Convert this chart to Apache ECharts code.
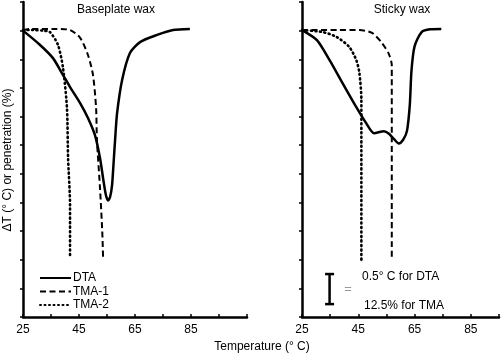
<!DOCTYPE html>
<html><head><meta charset="utf-8">
<script src="https://cdn.jsdelivr.net/npm/echarts@6/dist/echarts.min.js"></script>
<style>html,body{margin:0;padding:0;background:#fff}#c{width:502px;height:355px}</style>
</head><body><div id="c"></div>
<script>
// Baseplate wax (left panel): [temperature °C, scale units]
const baseDTA = [[25,10.0],[31.1,9.5],[35.7,9.04],[39.3,8.45],[41.8,8.03],[45.4,7.47],[48.2,6.95],[50.7,6.35],[52.5,5.55],[53.6,4.85],[54.6,4.26],[55.4,4.07],[56.1,4.19],[56.8,4.6],[57.3,5.3],[57.9,6.2],[58.6,7.12],[60.4,8.28],[63.2,9.22],[66.8,9.6],[72.9,9.85],[78.6,10.02],[84.6,10.06]];
const baseTMA1 = [[25,10.02],[27.5,10.06],[37.1,10.06],[41.8,10.02],[45.4,9.75],[48.2,9.15],[50.0,8.45],[51.1,7.3],[51.4,6.2],[52.5,4.5],[53.3,3.0],[53.6,2.06]];
const baseTMA2 = [[25,10.02],[28.6,10.02],[32.1,10.0],[34.6,9.95],[37.5,9.5],[39.3,8.69],[40.7,7.3],[41.1,5.55],[41.8,3.9],[41.8,2.06]];
// Sticky wax (right panel)
const stickyDTA = [[25,10.02],[30.3,9.67],[34.8,8.97],[39.4,8.17],[44.3,7.33],[47.8,6.77],[50.6,6.42],[54.1,6.49],[55.9,6.4],[57.8,6.2],[59.4,6.06],[61.0,6.2],[62.3,6.5],[63.3,7.4],[63.9,8.6],[65.0,9.45],[67.5,9.95],[70.5,10.05],[74.5,10.06]];
const stickyTMA1 = [[25,10.02],[38.3,10.02],[45.4,10.02],[49.9,9.92],[53.4,9.57],[55.8,9.2],[56.9,8.8],[56.9,1.99]];
const stickyTMA2 = [[25,10.02],[32.4,9.95],[37.3,9.78],[41.8,9.43],[44.3,8.97],[45.4,8.52],[46.1,7.58],[46.1,1.99]];
// scale bar (1 unit = 0.5 °C for DTA, 12.5 % for TMA)
const scaleBar = [[34.8,1.5],[34.8,0.45]];
const xTickLabels = [25,45,65,85];
const panelTitles = ['Baseplate wax','Sticky wax'];
const seriesNames = ['DTA','TMA-1','TMA-2'];

const font = 'Liberation Sans, Arial, sans-serif';
const chart = echarts.init(document.getElementById('c'));
const styles = {
  'DTA': {type:'solid', width:2.5},
  'TMA-1': {type:[6,3.5], width:2},
  'TMA-2': {type:[1,3.5], width:2.6, cap:'round'}
};
function mk(name, data, idx){
  return {name, type:'line', data, xAxisIndex:idx, yAxisIndex:idx, symbol:'none', smooth:0.25,
    lineStyle:Object.assign({color:'#000'}, styles[name]), itemStyle:{color:'#000'}, z:3};
}
function xAx(idx, max){
  return {type:'value', gridIndex:idx, min:25, max, interval:10,
    axisLine:{lineStyle:{color:'#000', width:2.5}},
    axisTick:{inside:true, length:3, lineStyle:{color:'#000', width:1.5}},
    splitLine:{show:false},
    axisLabel:{margin:7, color:'#000', fontSize:12, fontFamily:font,
      formatter:v=> xTickLabels.includes(v) ? String(v) : ''}};
}
function yAx(idx){
  return {type:'value', gridIndex:idx, min:0, max:11, interval:1,
    axisLine:{show:true, lineStyle:{color:'#000', width:2.5}},
    axisTick:{show:true, length:3, lineStyle:{color:'#000', width:1.5}},
    splitLine:{show:false}, axisLabel:{show:false}};
}
chart.setOption({
  animation:false,
  grid:[{left:23, top:2, width:224, height:315},{left:302, top:2, width:200, height:315}],
  xAxis:[xAx(0,105), xAx(1,95)],
  yAxis:[yAx(0), yAx(1)],
  legend:{data:seriesNames, orient:'vertical', left:34, top:267, itemWidth:31, itemHeight:14, itemGap:1.5,
    itemStyle:{opacity:0},
    textStyle:{fontSize:12, fontFamily:font, color:'#000', padding:[0,0,0,-3]}},
  series:[
    mk('DTA', baseDTA, 0), mk('TMA-1', baseTMA1, 0), mk('TMA-2', baseTMA2, 0),
    mk('DTA', stickyDTA, 1), mk('TMA-1', stickyTMA1, 1), mk('TMA-2', stickyTMA2, 1),
    {name:'scale', type:'line', data:scaleBar, xAxisIndex:1, yAxisIndex:1, symbol:'rect', symbolSize:[9,2.5],
      lineStyle:{color:'#000', width:2.5}, itemStyle:{color:'#000'}}
  ],
  graphic:[
    {type:'text', x:116, y:10, style:{text:panelTitles[0], font:'12px '+font, fill:'#000', align:'center', verticalAlign:'middle'}},
    {type:'text', x:402, y:10, style:{text:panelTitles[1], font:'12px '+font, fill:'#000', align:'center', verticalAlign:'middle'}},
    {type:'text', x:8, y:160, rotation:Math.PI/2, style:{text:'ΔT (° C) or penetration (%)', font:'12px '+font, fill:'#000', align:'center', verticalAlign:'middle'}},
    {type:'text', x:262, y:347, style:{text:'Temperature (° C)', font:'12px '+font, fill:'#000', align:'center', verticalAlign:'middle'}},
    {type:'text', x:348, y:289, style:{text:'=', font:'13px '+font, fill:'#999', align:'center', verticalAlign:'middle'}},
    {type:'text', x:362, y:277, style:{text:'0.5° C for DTA', font:'12px '+font, fill:'#000', align:'left', verticalAlign:'middle'}},
    {type:'text', x:364, y:306, style:{text:'12.5% for TMA', font:'12px '+font, fill:'#000', align:'left', verticalAlign:'middle'}}
  ]
});
</script></body></html>
